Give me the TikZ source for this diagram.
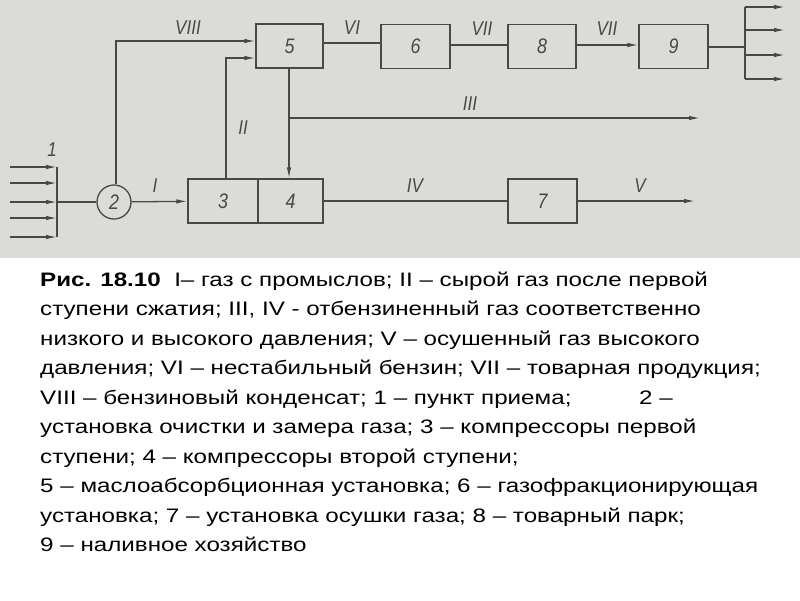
\documentclass[tikz,border=0pt]{standalone}
\usepackage{fontspec}
\setmainfont[FakeStretch=1.24]{Liberation Sans}
\newfontfamily\diagfont[FakeStretch=0.85]{Liberation Sans}
\usetikzlibrary{arrows.meta}
\definecolor{scanbg}{RGB}{219,219,216}
\definecolor{ink}{RGB}{72,72,72}
\tikzset{
  unit/.style={draw=ink, line width=1.3pt, minimum width=67pt, minimum height=44pt, inner sep=0pt, font=\diagfont\itshape\fontsize{21}{21}\selectfont, text=ink},
  pipe/.style={draw=ink, line width=1.3pt},
  flow/.style={pipe, -{Latex[length=11pt,width=4.5pt]}},
  lbl/.style={font=\diagfont\itshape\fontsize{20}{20}\selectfont, text=ink, inner sep=0pt},
  capline/.style={anchor=base west, inner sep=0pt, font=\fontsize{19.5}{22}\selectfont}
}
\begin{document}
\begin{tikzpicture}[x=1pt,y=-1pt]
\useasboundingbox (0,0) rectangle (800,600);
\fill[scanbg] (0,0) rectangle (800,258);
% units
\node[unit] (b5) at (289.5,46) {5};
\node[unit, minimum width=69pt] (b6) at (415.5,46.5) {6};
\node[unit, minimum width=68pt] (b8) at (542,46.5) {8};
\node[unit, minimum width=69pt] (b9) at (673.5,46.5) {9};
\node[unit, minimum width=70pt] (b3) at (223,201) {3};
\node[unit, minimum width=65pt] (b4) at (290.5,201) {4};
\node[unit, minimum width=69pt] (b7) at (542.5,201) {7};
\node[circle, draw=ink, line width=1.3pt, minimum size=34pt, inner sep=0pt, font=\diagfont\itshape\fontsize{21}{21}\selectfont, text=ink] (c2) at (114,202) {2};
% input manifold
\coordinate (m1) at (57,167);
\coordinate (m5) at (57,237);
\coordinate (mc) at (57,202);
\draw[pipe] (m1) -- (m5);
\foreach \yy in {167,183,202,218,237}{
  \coordinate (in\yy) at (10,\yy);
  \coordinate (tip\yy) at (57,\yy);
  \draw[flow] (in\yy) -- (tip\yy);
}
\node[lbl] (l1) at (52,150) {1};
\draw[pipe] (mc) -- (c2);
\draw[flow] (c2) -- (b3);
\node[lbl] (lI) at (155,186) {I};
% VIII
\coordinate (v8a) at (116,41);
\draw[flow] (c2.north) ++(2,0) |- (b5.west |- v8a);
\node[lbl] (lVIII) at (188,28) {VIII};
% II
\coordinate (v2a) at (226,58);
\draw[flow] (b3.north -| v2a) -- (v2a) -- (b5.west |- v2a);
\node[lbl] (lII) at (243,128) {II};
% 5 -> 4 and III
\coordinate (j3) at (289,118);
\coordinate (e3) at (700,118);
\draw[flow] (b5.south -| j3) -- (b4.north -| j3);
\draw[flow] (j3) -- (e3);
\node[lbl] (lIII) at (470,104) {III};
% top chain
\draw[pipe] (b5.east |- 0,43) -- (b6.west |- 0,43);
\node[lbl] (lVI) at (352,28) {VI};
\draw[pipe] (b6.east |- 0,45) -- (b8.west |- 0,45);
\node[lbl] (lVII) at (482,29) {VII};
\draw[flow] (b8.east |- 0,45) -- (b9.west |- 0,45);
\node[lbl] (lVIIb) at (607,29) {VII};
% distribution
\coordinate (d0) at (745,47);
\coordinate (dt) at (745,7);
\coordinate (db) at (745,79);
\draw[pipe] (b9.east |- d0) -- (d0);
\draw[pipe] (dt) -- (db);
\foreach \yy in {7,30,55,79}{
  \coordinate (ds\yy) at (745,\yy);
  \coordinate (de\yy) at (785,\yy);
  \draw[flow] (ds\yy) -- (de\yy);
}
% bottom chain
\draw[pipe] (b4) -- (b7);
\node[lbl] (lIV) at (415,186) {IV};
\coordinate (e5) at (695,201);
\draw[flow] (b7) -- (e5);
\node[lbl] (lV) at (640,186) {V};
% caption
\node[capline] (t1) at (40,286) {\textbf{Рис. 18.10}\ \ I– газ с промыслов; II – сырой газ после первой};
\node[capline] (t2) at (40,315.5) {ступени сжатия; III, IV - отбензиненный газ соответственно};
\node[capline] (t3) at (40,345) {низкого и высокого давления; V – осушенный газ высокого};
\node[capline] (t4) at (40,374.5) {давления; VI – нестабильный бензин; VII – товарная продукция;};
\node[capline] (t5) at (40,404) {VIII – бензиновый конденсат; 1 – пункт приема;};
\node[capline] (t5b) at (639,404) {2 –};
\node[capline] (t6) at (40,433.5) {установка очистки и замера газа; 3 – компрессоры первой};
\node[capline] (t7) at (40,463) {ступени; 4 – компрессоры второй ступени;};
\node[capline] (t8) at (40,492.5) {5 – маслоабсорбционная установка; 6 – газофракционирующая};
\node[capline] (t9) at (40,522) {установка; 7 – установка осушки газа; 8 – товарный парк;};
\node[capline] (t10) at (40,551.5) {9 – наливное хозяйство};
\end{tikzpicture}
\end{document}
